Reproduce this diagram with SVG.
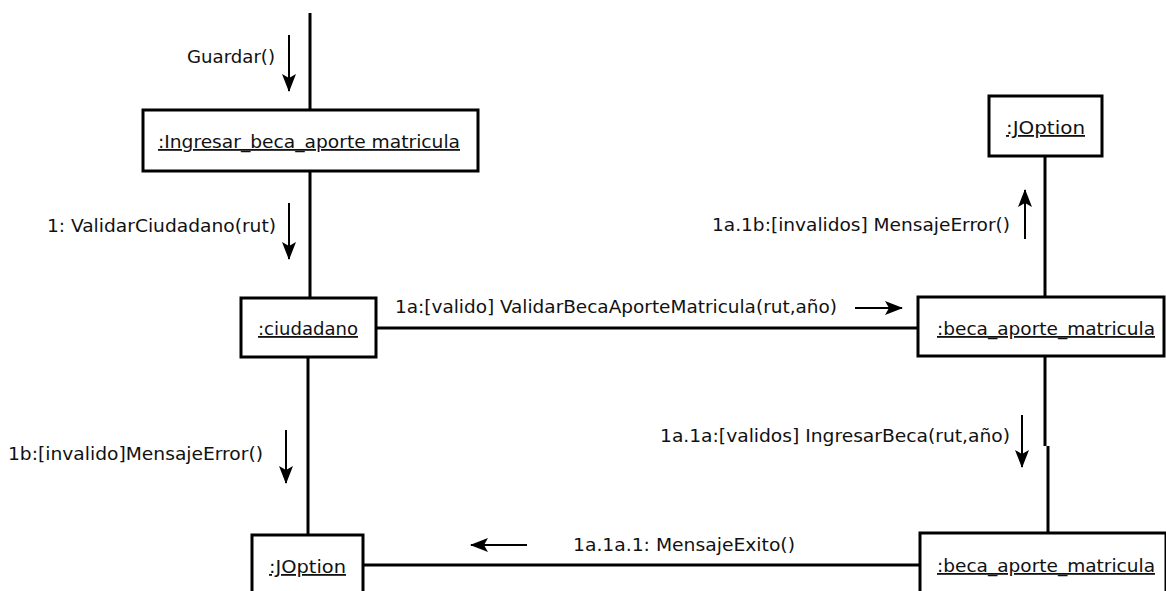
<svg xmlns="http://www.w3.org/2000/svg" width="1166" height="591" viewBox="0 0 1166 591">
<style>
.box{fill:#fff;stroke:#000;stroke-width:3}
.link{stroke:#000;stroke-width:3;fill:none}
.msg{stroke:#000;stroke-width:2;fill:none}
text{font-family:"DejaVu Sans","Liberation Sans",sans-serif;font-stretch:condensed;font-size:18px;fill:#111}
.name{text-decoration:underline}
</style>
<defs>
<marker id="ah" viewBox="0 0 18 14" refX="17" refY="7" markerWidth="18" markerHeight="14" markerUnits="userSpaceOnUse" orient="auto">
<path d="M0,0 L18,7 L0,14 L4,7 Z" fill="#000"/>
</marker>
</defs>
<g id="connectors">
<line class="link" x1="310" y1="13" x2="310" y2="110"/>
<line class="link" x1="310" y1="171" x2="310" y2="298"/>
<line class="link" x1="376" y1="328" x2="918" y2="328"/>
<line class="link" x1="1045" y1="156" x2="1045" y2="297"/>
<line class="link" x1="1045" y1="356" x2="1045" y2="446"/>
<line class="link" x1="1048" y1="446" x2="1048" y2="533"/>
<line class="link" x1="308" y1="357" x2="308" y2="535"/>
<line class="link" x1="363" y1="565" x2="920" y2="565"/>
<line class="msg" x1="289" y1="35" x2="289" y2="91" marker-end="url(#ah)"/>
<text x="187" y="63" textLength="88" lengthAdjust="spacingAndGlyphs">Guardar()</text>
<line class="msg" x1="289" y1="203" x2="289" y2="259" marker-end="url(#ah)"/>
<text x="47" y="232" textLength="229" lengthAdjust="spacingAndGlyphs">1: ValidarCiudadano(rut)</text>
<line class="msg" x1="855" y1="308" x2="902" y2="308" marker-end="url(#ah)"/>
<text x="395" y="313" textLength="442" lengthAdjust="spacingAndGlyphs">1a:[valido] ValidarBecaAporteMatricula(rut,año)</text>
<line class="msg" x1="1025" y1="239" x2="1025" y2="190" marker-end="url(#ah)"/>
<text x="712" y="231" textLength="298" lengthAdjust="spacingAndGlyphs">1a.1b:[invalidos] MensajeError()</text>
<line class="msg" x1="1022" y1="415" x2="1022" y2="467" marker-end="url(#ah)"/>
<text x="660" y="442" textLength="350" lengthAdjust="spacingAndGlyphs">1a.1a:[validos] IngresarBeca(rut,año)</text>
<line class="msg" x1="286" y1="430" x2="286" y2="483" marker-end="url(#ah)"/>
<text x="8" y="460" textLength="255" lengthAdjust="spacingAndGlyphs">1b:[invalido]MensajeError()</text>
<line class="msg" x1="527" y1="545" x2="471" y2="545" marker-end="url(#ah)"/>
<text x="573" y="551" textLength="222" lengthAdjust="spacingAndGlyphs">1a.1a.1: MensajeExito()</text>
</g>
<g id="ingresar">
<rect class="box" x="143" y="110" width="335" height="61"/>
<text class="name" x="158" y="148" textLength="302" lengthAdjust="spacingAndGlyphs">:Ingresar_beca_aporte matricula</text>
</g>
<g id="ciudadano">
<rect class="box" x="241" y="298" width="135" height="59"/>
<text class="name" x="258" y="335" textLength="100" lengthAdjust="spacingAndGlyphs">:ciudadano</text>
</g>
<g id="beca1">
<rect class="box" x="918" y="297" width="246" height="59"/>
<text class="name" x="937" y="335" textLength="218" lengthAdjust="spacingAndGlyphs">:beca_aporte_matricula</text>
</g>
<g id="joption1">
<rect class="box" x="989" y="96" width="113" height="60"/>
<text class="name" x="1006" y="134" textLength="79" lengthAdjust="spacingAndGlyphs">:JOption</text>
</g>
<g id="joption2">
<rect class="box" x="252" y="535" width="111" height="70"/>
<text class="name" x="269" y="573" textLength="77" lengthAdjust="spacingAndGlyphs">:JOption</text>
</g>
<g id="beca2">
<rect class="box" x="920" y="533" width="246" height="70"/>
<text class="name" x="937" y="572" textLength="218" lengthAdjust="spacingAndGlyphs">:beca_aporte_matricula</text>
</g>
</svg>
